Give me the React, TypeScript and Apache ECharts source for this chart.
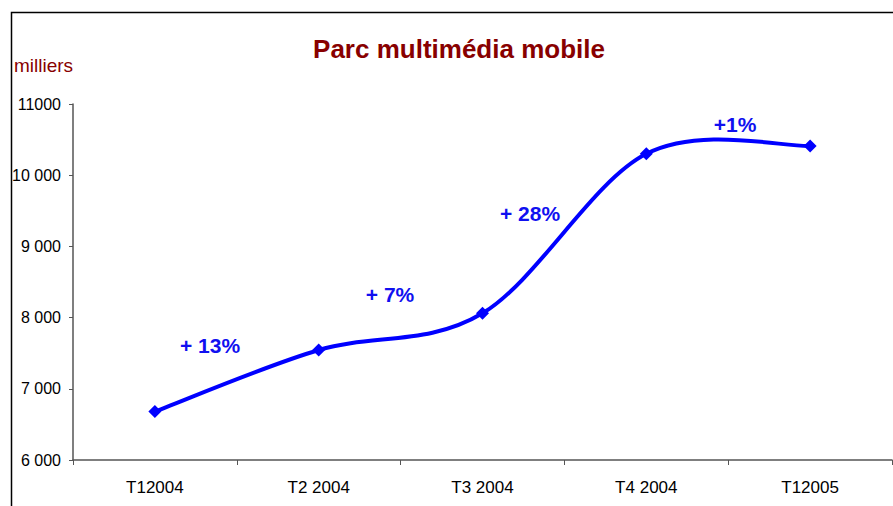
import React, { useEffect, useRef } from "react";
import * as echarts from "echarts";

const categories = ["T12004", "T2 2004", "T3 2004", "T4 2004", "T12005"];
const parc = [6680, 7545, 8060, 10300, 10410];
const growthLabels = ["+ 13%", "+ 7%", "+ 28%", "+1%"];
const yTicks = [6000, 7000, 8000, 9000, 10000, 11000];

const fmt = (v: number) =>
  v === 11000 ? "11000" : String(v).replace(/\B(?=(\d{3})+(?!\d))/g, " ");

export default function App() {
  const ref = useRef<HTMLDivElement>(null);
  useEffect(() => {
    if (!ref.current) return;
    const chart = echarts.init(ref.current, undefined, { renderer: "svg" });
    const font = "Liberation Sans, Arial, sans-serif";
    const annPos = [
      [210, 345],
      [390, 294],
      [530, 213],
      [735, 124],
    ];
    const n = parc.length;
    chart.setOption({
      animation: false,
      backgroundColor: "#fff",
      title: {
        text: "Parc multimédia mobile",
        left: 454,
        top: 31,
        textAlign: "center",
        textStyle: { color: "#880000", fontSize: 26, fontWeight: "bold", fontFamily: font },
      },
      grid: { left: 73, right: 1, top: 104, bottom: 46 },
      xAxis: {
        type: "category",
        data: categories,
        boundaryGap: true,
        axisLine: { lineStyle: { color: "#555", width: 1.5 } },
        axisTick: { show: true, length: 5, lineStyle: { color: "#555" } },
        axisLabel: { color: "#000", fontSize: 17, fontFamily: font, margin: 19 },
      },
      yAxis: {
        type: "value",
        min: yTicks[0],
        max: yTicks[yTicks.length - 1],
        interval: 1000,
        axisLine: { show: true, lineStyle: { color: "#555", width: 1.5 } },
        axisTick: { show: true, length: 4, lineStyle: { color: "#555" } },
        splitLine: { show: false },
        axisLabel: { color: "#000", fontSize: 16, fontFamily: font, margin: 12, formatter: fmt },
      },
      graphic: [
        {
          type: "rect",
          shape: { x: 11.5, y: 12.5, width: 900, height: 520 },
          style: { fill: "none", stroke: "#000", lineWidth: 1.5 },
          z: 0,
        },
        {
          type: "text",
          x: 14,
          y: 65,
          style: {
            text: "milliers",
            fill: "#880000",
            font: `19px ${font}`,
            verticalAlign: "middle",
          },
        },
        ...growthLabels.map((t, i) => ({
          type: "text",
          x: annPos[i][0],
          y: annPos[i][1],
          style: {
            text: t,
            fill: "#1010F0",
            font: `bold 21px ${font}`,
            align: "center",
            verticalAlign: "middle",
          },
        })),
      ],
      series: [
        {
          type: "custom",
          data: parc.map((v, i) => [i, v]),
          silent: true,
          z: 2,
          renderItem: (params: any, api: any) => {
            const i = params.dataIndex;
            if (i >= n - 1) return { type: "group", children: [] };
            const p = (k: number) => {
              const kk = Math.max(0, Math.min(n - 1, k));
              return api.coord([kk, parc[kk]]);
            };
            const p0 = p(i - 1);
            const p1 = p(i);
            const p2 = p(i + 1);
            const p3 = p(i + 2);
            const cp1 = [p1[0] + (p2[0] - p0[0]) / 6, p1[1] + (p2[1] - p0[1]) / 6];
            const cp2 = [p2[0] - (p3[0] - p1[0]) / 6, p2[1] - (p3[1] - p1[1]) / 6];
            return {
              type: "bezierCurve",
              shape: {
                x1: p1[0],
                y1: p1[1],
                x2: p2[0],
                y2: p2[1],
                cpx1: cp1[0],
                cpy1: cp1[1],
                cpx2: cp2[0],
                cpy2: cp2[1],
              },
              style: { stroke: "#0000FF", lineWidth: 4, fill: "none", lineCap: "round" },
            };
          },
        },
        {
          type: "line",
          data: parc,
          z: 3,
          symbol: "diamond",
          symbolSize: 13,
          lineStyle: { width: 0, opacity: 0 },
          itemStyle: { color: "#0000FF" },
        },
      ],
    });
    return () => chart.dispose();
  }, []);
  return (
    <div
      ref={ref}
      style={{ position: "fixed", left: 0, top: 0, width: 893, height: 506 }}
    />
  );
}
